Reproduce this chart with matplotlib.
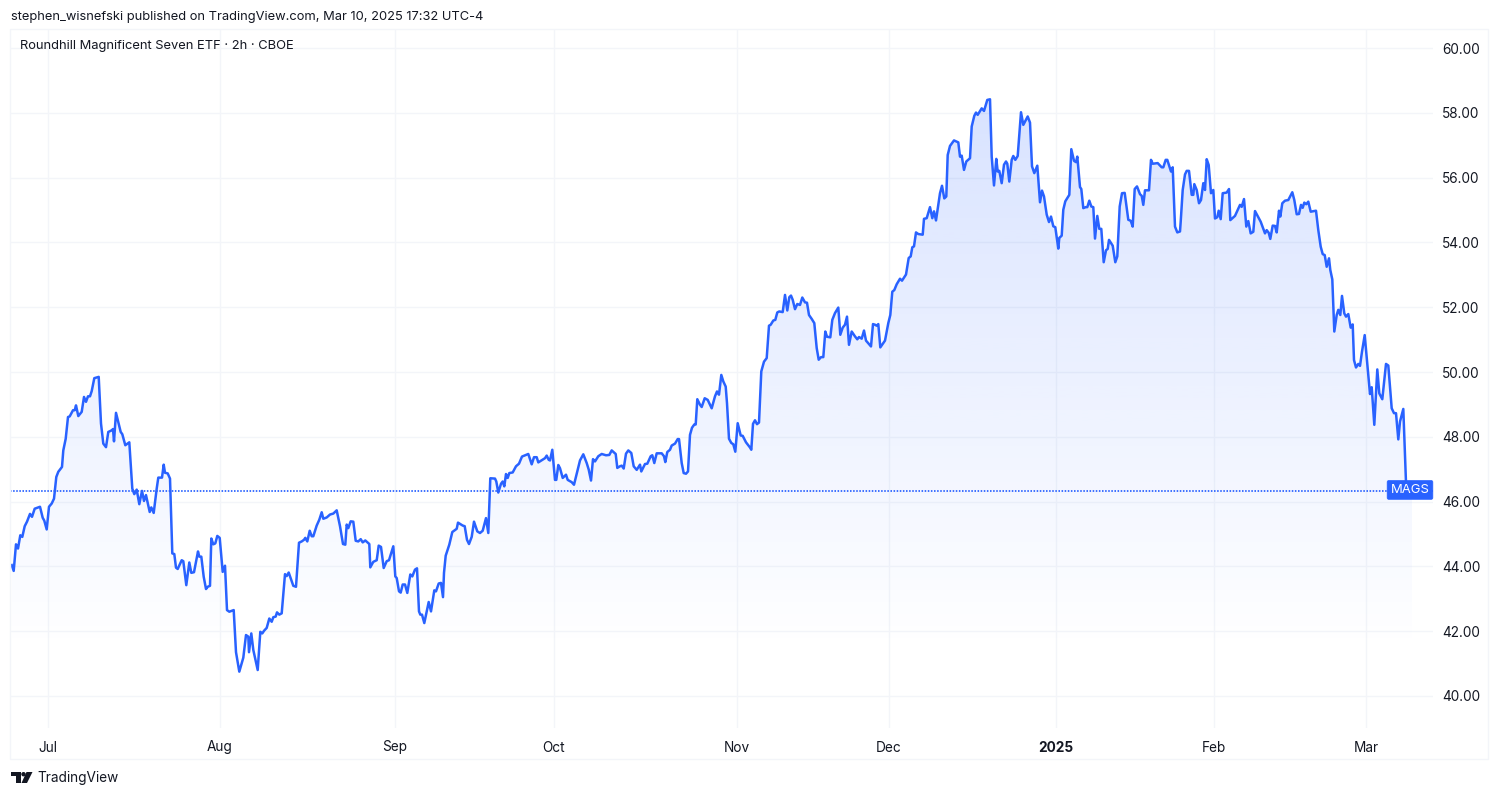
import matplotlib
matplotlib.use("Agg")
import matplotlib.pyplot as plt
import numpy as np
from matplotlib.patches import Circle, Polygon, Rectangle
from matplotlib.transforms import Affine2D

WIDTH, HEIGHT = 1500, 797
BLUE = "#2962FF"
GRID = "#f3f5f9"
INK = "#131722"

plt.rcParams["font.family"] = ["Inter", "DejaVu Sans"]

# position along the (non-linear) session axis, one entry per read point
bar_pos = [
    0.7, 2.7, 5, 7, 9.3, 11.3, 13.7, 16, 19, 21, 23.7, 29, 31.7, 33.3, 35.7, 38, 40.7, 43, 45.3, 47.3,
    51, 52.3, 54.7, 57, 58.7, 62, 63.7, 65, 67.3, 70.7, 73, 75, 77, 79, 80.7, 83.3, 87.7, 90, 92.3, 95,
    97.3, 100.7, 102, 103, 105, 109.7, 111.3, 114.3, 118.3, 121.3, 123.3, 125.7, 128.3, 131, 133, 135,
    138.7, 140.3, 142.7, 145.7, 147.3, 151, 152.7, 154, 156.7, 159, 161.3, 163.3, 165, 166.7, 170.7,
    172.3, 175.3, 178.3, 180.3, 183, 187, 188.3, 190.3, 192.7, 195, 196.7, 199, 200.3, 202.3, 204.3,
    206.3, 208.7, 211.7, 214, 216, 218.3, 222.7, 225, 228.3, 232.3, 235, 237.3, 238, 240.3, 242.3,
    246.7, 249.3, 251.3, 253, 255.7, 258.3, 260.7, 262.3, 264.7, 266, 268.3, 270.7, 274, 275.7, 277.7,
    282.3, 285, 288,
    290.7, 293, 294.3, 296.3, 298.7, 300.7, 302.3, 305.7, 308.3, 310.7, 312.3, 315.7, 319, 322.3, 325.7,
    329, 332, 334.3, 335.7, 337.3, 339.7, 342.3, 344.7, 347.3, 349.7, 351.7, 354.3, 358.3, 359.3, 362.3,
    365.7, 367.7, 370, 372.7, 375.7, 378, 382.3, 384.3, 385.7, 388, 389.7, 391.7, 394, 396.3, 399.3,
    401.3, 404, 406, 408, 409.3, 411, 413.3, 417.7, 420, 423.3, 425, 427.7, 430, 432, 433, 434.7, 438.3,
    441.3, 445.7, 447, 451.7, 453.7, 456, 458, 460.7, 463, 466.3, 469, 471.7, 475, 477.3, 479.3, 484,
    485.3, 487.3, 490, 491.7, 493.3, 495, 496.7, 498.3, 501.7, 505, 508, 511, 517.3, 520.7, 523, 525.7,
    527.3, 534, 535.7, 537.7, 539, 541.3, 544, 545.3, 547.3, 549, 551.7, 555, 556.7, 560.7, 563, 566.3,
    569,
    572.3, 575.7, 577.7, 580, 582, 584, 587.3, 590.7, 595, 598.3, 600.7, 604.7, 606.3, 609, 610.7, 612.7,
    615, 617.3, 620.3, 622.7, 625.7, 629, 630.3, 634, 636.3, 639.7, 641.3, 643.3, 645.7, 650.7, 653,
    654.3, 656.3, 659, 660.7, 664, 666.7, 668, 670.7, 672.7, 675, 677, 679, 681, 683.3, 684.7, 686.3,
    689, 690.7, 693.7, 696.7, 700.7, 704, 706, 708, 710.3, 712.3, 714.7, 716, 718, 720.3, 722.3, 724.3,
    726.7, 729.7, 731.7, 735, 739, 740.3, 742, 744, 746, 748, 750.3, 753, 755.7, 758, 759.7, 762.3, 764.3,
    766.3, 768.3, 771.7, 774, 776.3, 778.3, 780, 781.7, 784, 786.3, 789, 791.3, 794, 796, 798, 800.7,
    803.3, 805.7, 807.7, 810, 812.3, 814.3, 816, 819.3, 821.3, 824, 827.3, 829.3, 831.7, 834, 836, 838,
    840.7, 844, 846.3, 848, 850.7, 853, 855, 860, 862, 864, 865.7, 867.3, 869.3, 874, 877.3, 879.3,
    881.3, 883.3, 885.7,
    889, 891, 895, 897.7, 899.7, 901.3, 903, 905, 907.3, 911.7, 913, 915.7, 919, 921.3, 923, 925, 929,
    931, 933.3, 935.3, 936.7, 939, 943, 947.3, 949, 950.7, 953, 955.3, 959, 960.7, 963.3, 965, 966.7,
    970.7, 973, 976.3, 979, 980.7, 983, 985.3, 986.7, 988.3, 990.7, 993, 995, 996.3, 998.3, 1000.7,
    1002.3, 1004.3, 1006.7, 1010, 1012.3, 1016.7, 1019, 1021, 1023.3, 1026.3, 1029, 1031, 1033, 1035.7,
    1038, 1040, 1042.3, 1044.3, 1047.3, 1048.3, 1050.7, 1052.3, 1054.3, 1058.3, 1060.3, 1063, 1065,
    1066.3, 1069, 1070.3, 1072.3, 1074.7, 1076.3, 1078.3, 1080.3, 1082.3, 1084, 1086.3, 1088.3, 1090.3,
    1092.7, 1095, 1096.7, 1098, 1101.7, 1104.3, 1106.3, 1108.7, 1111, 1113.7, 1117.3, 1119.7, 1121.7,
    1123.7, 1126, 1129, 1130.7, 1132.3, 1134, 1138, 1140, 1141.7, 1146.7, 1150.7, 1152.3, 1154.7, 1156.3,
    1160, 1161.7, 1164, 1166.3, 1169,
    1169.7, 1171.7, 1174, 1175.7, 1178, 1180.7, 1182.3, 1183.3, 1185.7, 1188, 1190, 1192.3, 1194, 1195.7,
    1197.7, 1200, 1202.3, 1204, 1206.3, 1207.7, 1209.7, 1211.7, 1215.7, 1218, 1219.3, 1224, 1229, 1230.7,
    1233, 1235.3, 1237.3, 1239.7, 1242.3, 1244, 1247.3, 1249.7, 1254, 1255.7, 1257.7, 1259.3, 1261.7,
    1264, 1265.7, 1268, 1269.3, 1271.3, 1274, 1277.3, 1281.3, 1283.3, 1285.7, 1288, 1290, 1291.7, 1293.3,
    1295.3, 1297.3, 1299.7, 1305, 1307.3, 1309.7, 1311.7, 1313.7, 1315.7, 1318, 1319.3, 1321.3, 1323.3,
    1325.7, 1327.3, 1329.3, 1331, 1333.3, 1335, 1337.3, 1339.7, 1341.7, 1343, 1345, 1347.3, 1349, 1351,
    1353.7, 1359, 1360.7, 1363.3, 1366.3, 1368.3, 1371.3, 1375, 1377.3, 1380.7, 1383, 1385, 1387.3, 1389,
    1392.3, 1395, 1395.3,
]

price = [
    44.04, 43.86, 44.68, 44.55, 44.96, 44.91, 45.24, 45.38, 45.62, 45.53, 45.78, 45.84, 45.50, 45.41, 45.14,
    45.84, 45.94, 46.09, 46.76, 46.92,
    47.07, 47.58, 47.94, 48.61, 48.63, 48.82, 48.82, 48.97, 48.64, 48.77, 49.23, 49.08, 49.25, 49.25, 49.41,
    49.81, 49.85, 48.41, 47.79, 47.68,
    48.15, 48.20, 48.24, 47.86, 48.74, 48.15, 48.08, 47.74, 47.83, 46.40, 46.23, 46.37, 45.92, 46.33, 46.02,
    46.20, 45.68, 45.82, 45.65, 46.40, 46.74, 46.74, 47.14, 46.89, 46.87, 46.71, 44.40, 44.38, 43.96, 43.92,
    44.19, 44.16, 43.42, 44.12, 43.80, 43.82, 44.46, 44.30, 44.30, 43.68, 43.30, 43.37, 43.40, 44.86, 44.68,
    44.71, 44.94, 44.88, 43.83, 44.02, 42.65, 42.60, 42.65, 41.35, 40.75, 41.18, 41.88, 41.83, 41.35, 41.93,
    41.42, 40.80, 41.98, 41.93, 42.01, 42.10, 42.39, 42.29, 42.43, 42.45, 42.58, 42.51, 42.55, 43.76, 43.70,
    43.81, 43.40, 43.37, 44.73,
    44.77, 44.82, 44.88, 44.77, 45.10, 44.93, 44.93, 45.26, 45.44, 45.67, 45.47, 45.51, 45.60, 45.63, 45.73,
    45.24, 44.69, 44.67, 45.29, 45.18, 45.39, 45.38, 44.79, 44.77, 44.84, 44.74, 44.80, 44.69, 43.97, 44.14,
    44.19, 44.64, 44.60, 43.95, 44.16, 44.19, 44.62, 43.69, 43.64, 43.23, 43.19, 43.44, 43.44, 43.18, 43.75,
    43.69, 43.90, 43.94, 42.61, 42.51, 42.51, 42.25, 42.90, 42.61, 43.26, 43.23, 43.47, 43.49, 43.05, 43.80,
    44.33, 44.67, 45.06, 45.16, 45.35, 45.26, 45.24, 44.82, 44.69, 44.91, 45.38, 45.08, 45.03, 45.10, 45.49,
    45.03, 46.72, 46.71, 46.62, 46.28, 46.55, 46.62, 46.47, 46.85, 46.73, 46.88, 46.90, 47.09, 47.17, 47.39,
    47.47, 47.15, 47.37, 47.37, 47.21, 47.34, 47.42, 47.29, 47.27, 47.60, 46.67, 46.67, 47.13, 47.03, 46.73,
    46.83, 46.67, 46.60, 46.52, 46.93, 47.27,
    47.46, 47.19, 46.99, 46.65, 47.31, 47.24, 47.40, 47.47, 47.43, 47.44, 47.58, 47.47, 47.04, 47.09, 47.11,
    47.02, 47.48, 47.58, 47.50, 47.09, 46.98, 47.14, 46.93, 47.16, 47.17, 47.40, 47.43, 47.19, 47.49, 47.49,
    47.40, 47.22, 47.53, 47.60, 47.73, 47.79, 47.93, 47.93, 47.19, 46.88, 46.86, 46.93, 48.06, 48.28, 48.38,
    48.38, 49.16, 48.99, 48.92, 49.19, 49.14, 48.88, 49.25, 49.40, 49.30, 49.91, 49.71, 49.55, 49.04, 47.94,
    47.81, 47.77, 47.54, 48.42, 48.04, 48.03, 47.83, 47.67, 47.60, 48.40, 48.51, 48.39, 48.44, 50.02, 50.32,
    50.43, 51.43, 51.46, 51.59, 51.61, 51.84, 51.87, 51.85, 52.38, 51.90, 52.31, 52.36, 52.23, 51.94, 52.10,
    52.07, 52.30, 52.15, 52.14, 51.76, 51.64, 51.51, 50.74, 50.38, 50.46, 50.46, 51.25, 51.09, 51.07, 51.61,
    51.82, 51.99, 51.15, 51.37, 51.46, 51.71, 50.84, 51.25, 51.10, 51.01, 51.08, 51.03, 51.28, 50.97, 50.79,
    51.48, 51.46, 51.43, 51.48, 50.76, 50.97, 51.51, 51.76, 52.48, 52.53, 52.71,
    52.88, 52.82, 53.01, 53.52, 53.57, 53.85, 53.88, 54.31, 54.26, 54.24, 54.73, 54.75, 55.09, 54.75, 54.96,
    54.68, 55.52, 55.75, 55.36, 55.42, 56.70, 56.98, 57.15, 57.09, 56.65, 56.68, 56.24, 56.50, 56.60, 57.58,
    57.91, 58.01, 57.94, 58.14, 58.06, 58.40, 58.42, 56.65, 55.76, 56.58, 56.19, 56.21, 55.83, 56.40, 56.50,
    56.43, 55.88, 56.55, 56.67, 56.55, 56.67, 58.02, 57.63, 57.89, 57.70, 56.35, 56.14, 56.37, 55.24, 55.60,
    55.42, 54.86, 54.63, 54.80, 54.50, 54.47, 53.81, 54.14, 54.21, 55.01, 55.27, 55.47, 56.88, 56.52, 56.48,
    56.65, 55.71, 55.65, 55.06, 55.09, 55.09, 55.29, 55.11, 55.09, 54.12, 54.82, 54.42, 54.42, 53.39, 53.76,
    53.80, 54.08, 53.90, 53.39, 53.57, 55.11, 55.52, 55.53, 54.70, 54.67, 54.49, 55.65, 55.73, 55.49, 55.44,
    55.16, 55.61, 55.61, 56.55, 56.43, 56.45, 56.32, 56.32, 56.55, 56.55, 56.19, 56.32, 54.49, 54.31, 54.34,
    54.64, 55.62, 56.10, 56.21, 56.21, 55.47, 55.47, 55.80, 55.62, 55.21, 55.31, 55.83, 55.62, 56.57, 56.39,
    55.52, 55.62, 54.74, 54.78, 54.98, 54.72, 55.52, 55.54, 55.65, 54.69, 54.82, 55.16, 55.10, 55.34, 54.49,
    54.66, 54.28, 54.33, 54.97, 54.78, 54.64, 54.28, 54.38, 54.30, 54.11, 54.52, 54.51, 54.31, 54.98, 54.80,
    55.21, 55.29, 55.31, 55.55, 55.31, 54.87, 54.88, 55.16, 55.07, 55.23, 55.18, 55.26, 54.95, 54.98, 54.38,
    53.87, 53.64, 53.61, 53.25, 53.51, 53.15, 52.86, 51.25, 51.76, 51.92, 51.76, 52.35, 51.81, 51.71, 51.79,
    51.37, 51.47, 50.37, 50.14, 50.25, 50.19, 50.63, 51.14, 49.32, 49.53, 48.37, 50.08, 49.34, 49.16, 50.25,
    50.20, 48.88, 48.73, 48.73, 47.92, 48.47, 48.86, 46.57, 46.33,
]

month_ticks = [37, 209, 384, 543, 726, 878, 1045, 1203, 1355]
month_labels = ["Jul", "Aug", "Sep", "Oct", "Nov", "Dec", "2025", "Feb", "Mar"]
price_ticks = [40, 42, 44, 46, 48, 50, 52, 54, 56, 58, 60]
last_price = 46.33


def fx(x):
    return x / WIDTH


def fy(y):
    return 1 - y / HEIGHT


fig = plt.figure(figsize=(WIDTH / 100, HEIGHT / 100), dpi=100, facecolor="white")
ax = fig.add_axes([fx(10), fy(728), (1433 - 10) / WIDTH, (728 - 29) / HEIGHT])
ax.set_xlim(-1, 1422)
ax.set_ylim(39.01, 60.59)
ax.set_facecolor("none")

for side in ax.spines.values():
    side.set_visible(False)

ax.set_axisbelow(True)
ax.grid(True, color=GRID, linewidth=1)
ax.set_xticks(month_ticks, month_labels)
ax.set_yticks(price_ticks, [f"{p:.2f}" for p in price_ticks])
ax.yaxis.tick_right()
ax.tick_params(axis="both", length=0, labelsize=9.8, labelcolor=INK)
ax.tick_params(axis="y", pad=6.6)
ax.tick_params(axis="x", pad=9)
for label in ax.get_xticklabels():
    if label.get_text() == "2025":
        label.set_fontweight("bold")

# gradient under the line, clipped to the area polygon
rgba = np.zeros((256, 1, 4))
rgba[..., 0] = 0x29 / 255
rgba[..., 1] = 0x62 / 255
rgba[..., 2] = 1.0
rgba[..., 3] = np.linspace(0.18, 0, 256).reshape(-1, 1)
area_x = [bar_pos[0]] + bar_pos + [1401, 1401, bar_pos[0]]
area_y = [39.01] + price + [last_price, 39.01, 39.01]
area = Polygon(np.column_stack([area_x, area_y]), closed=True, facecolor="none", edgecolor="none")
ax.add_patch(area)
gradient = ax.imshow(rgba, extent=[-1, 1422, 41.4, 58.45], aspect="auto", zorder=1, interpolation="bilinear")
gradient.set_clip_path(area)
ax.set_xlim(-1, 1422)
ax.set_ylim(39.01, 60.59)

ax.axhline(last_price, color=BLUE, linewidth=1.4, linestyle=(0, (0.8, 0.8)), alpha=0.9, zorder=2)
ax.plot(bar_pos, price, color=BLUE, linewidth=1.8, zorder=3)

ax.text(1399, last_price + 0.03, "MAGS", color="white", fontsize=9.4, ha="center", va="center", zorder=5,
        bbox=dict(boxstyle="round,pad=0.26,rounding_size=0.12", facecolor=BLUE, edgecolor=BLUE, linewidth=0.5))

# outer frame of the published image
frame = Rectangle((fx(10), fy(759)), (1488 - 10) / WIDTH, (759 - 29) / HEIGHT, transform=fig.transFigure,
                  facecolor="none", edgecolor=GRID, linewidth=1)
fig.add_artist(frame)

fig.text(fx(11), fy(17), "stephen_wisnefski published on TradingView.com, Mar 10, 2025 17:32 UTC-4",
         fontsize=9.27, color=INK, ha="left", va="center")
fig.text(fx(20), fy(46.5), "Roundhill Magnificent Seven ETF · 2h · CBOE",
         fontsize=9.3, color=INK, ha="left", va="center")
fig.text(fx(37), fy(778), "TradingView", fontsize=9.8, color=INK, ha="left", va="center")

# small TradingView logo, drawn in pixel coordinates
to_px = Affine2D().scale(1 / WIDTH, -1 / HEIGHT).translate(0, 1) + fig.transFigure
logo_parts = [
    Polygon([(11, 772), (20.5, 772), (20.5, 783), (15.5, 783), (15.5, 776.3), (11, 776.3)], closed=True),
    Circle((23.5, 774.2), 2.2),
    Polygon([(26.5, 772), (32.5, 772), (27, 783), (21.5, 783)], closed=True),
]
for part in logo_parts:
    part.set(facecolor=INK, edgecolor="none", transform=to_px)
    fig.add_artist(part)

fig.savefig("out.png", dpi=100)
plt.close(fig)
